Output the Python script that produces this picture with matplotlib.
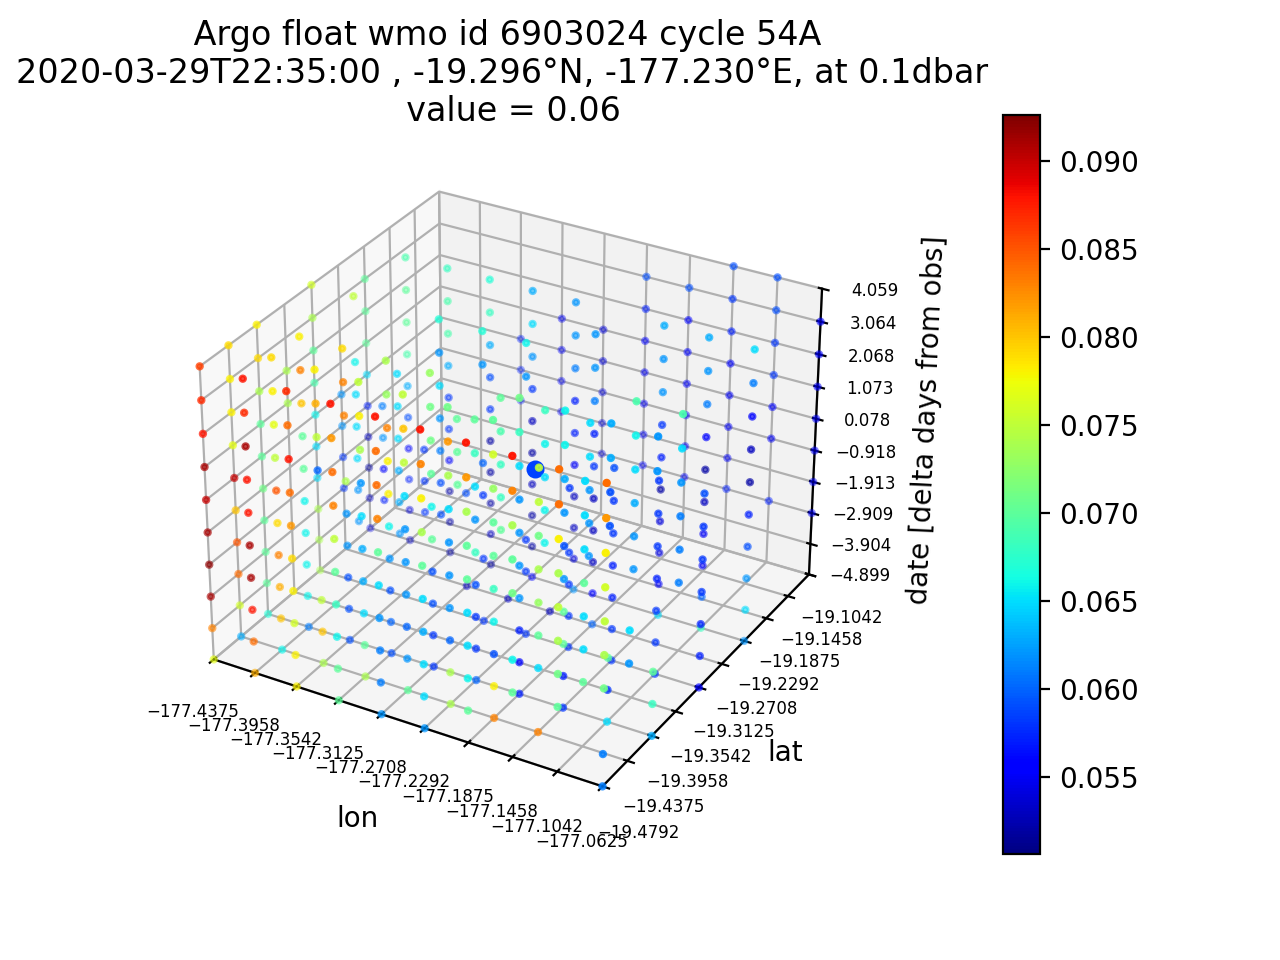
import numpy as np
import matplotlib
matplotlib.use('Agg')
import matplotlib.pyplot as plt

# Grid ticks of the float's neighbourhood
lon_ticks = [-177.4375, -177.3958, -177.3542, -177.3125, -177.2708,
             -177.2292, -177.1875, -177.1458, -177.1042, -177.0625]
lat_ticks = [-19.4792, -19.4375, -19.3958, -19.3542, -19.3125,
             -19.2708, -19.2292, -19.1875, -19.1458, -19.1042]
date_ticks = [-4.899, -3.904, -2.909, -1.913, -0.918,
              0.078, 1.073, 2.068, 3.064, 4.059]

# Observation
obs_lon = -177.230
obs_lat = -19.296
obs_date = 0.0
obs_value = 0.0585
vmin = 0.0506
vmax = 0.0926

N = None
# Columns of the grid: lon index, lat index
stack_i = [0, 1, 2, 3, 4, 5, 6, 7, 8, 9,
           0, 1, 2, 3, 4, 5, 6, 7, 8, 9,
           0, 1, 2, 3, 4, 5, 6, 7, 8, 9,
           0, 4, 5, 6, 7, 8, 9,
           0, 1, 2, 3, 4, 5, 6, 7, 8, 9,
           0, 1, 2, 3, 4, 5, 6,
           0, 1, 2, 3, 4, 5, 7, 8, 9,
           2, 3, 4, 5, 6, 7, 8, 9]
stack_j = [0] * 10 + [1] * 10 + [2] * 10 + [3] * 7 + [4] * 10 + [5] * 7 + [6] * 9 + [9] * 8
# Values (thousandths) for each column from the lowest date level up
stack_values = [
    [77, 83, 91, 92, 91, 90, 91, 88, 87, 86],
    [81, 84, 88, 91, 91, 88, 88, 91, 87, 88],
    [78, 78, 76, 78, 79, 82, 84, 88, 84, 87],
    [70, 70, 66, 68, 70, 75, 83, 84, 82, 88],
    [62, 61, 61, 62, 65, 70, 83, 84, 84, 88],
    [62, 65, 65, 63, 65, 70, 74, 78, 83, 88],
    [N, 70, 66, 65, 65, 70, 70, 74, 82, 88],
    [N, N, 70, 66, N, 71, 70, 74, 83, 88],
    [N, N, 70, 71, 74, 75, 74, 78, 84, 84],
    [61, 61, N, 71, 74, 75, 76, 78, 82, 84],
    [63, 76, 84, 85, 80, 90, 77, 78, 78, 79],
    [66, 80, 81, 83, 79, 85, 75, 77, 78, 79],
    [74, 80, 75, N, N, N, 60, 75, 81, 78],
    [74, 70, 65, 63, 63, 65, 62, 74, 78, 75],
    [70, 62, 60, 62, 62, 62, 65, 75, 80, 75],
    [74, 74, 60, 62, 62, 62, 65, 74, 82, 71],
    [83, 78, 59, 66, 68, 70, 70, 73, 76, 70],
    [83, N, 65, 70, 73, 74, 71, 75, 75, N],
    [N, N, 70, 65, 65, 70, 65, 65, 65, N],
    [N, N, N, 62, 65, N, N, N, N, N],
    [67, 70, 70, 70, 71, 70, 70, 74, 79, 78],
    [61, 66, 66, 66, 66, 70, 70, 80, 83, 78],
    [59, 59, 59, 62, 62, 74, N, 83, 83, 79],
    [59, 60, 59, 62, 66, 78, 78, 83, 73, 74],
    [58, 58, 59, 59, 70, 66, 70, 71, 71, 73],
    [60, 58, 58, 59, 68, 62, 65, 68, 70, N],
    [57, 56, 57, 62, 62, 62, 62, 65, 68, 71],
    [58, 57, 70, 70, 62, 59, 62, 63, 66, 66],
    [65, 58, 70, N, N, N, 59, 59, 63, 63],
    [63, 68, 70, N, N, N, N, N, 62, 62],
    [N, N, N, N, N, N, 74, 74, N, N],
    [N, N, N, N, N, 70, 70, 70, N, N],
    [N, N, N, N, 70, 68, 68, 69, 70, N],
    [N, N, N, N, 66, 66, 65, 66, 68, N],
    [N, N, N, N, 62, 62, 62, 65, 65, N],
    [N, N, N, N, 62, 62, 63, 65, 66, 69],
    [N, N, N, N, 61, 61, 61, 62, 65, 69],
    [74, 74, 74, 65, 65, 66, 69, 70, 74, 76],
    [N, N, 62, 62, 65, 65, 65, 66, N, 75],
    [N, N, 62, 63, 63, 65, 65, 65, N, N],
    [N, N, N, 59, 59, 61, 62, 65, 62, 67],
    [58, N, 58, N, 58, 60, N, N, 62, 67],
    [58, N, 58, 58, N, N, N, N, 62, 66],
    [58, 58, 58, 58, N, 58, N, N, N, N],
    [58, 58, 57, 57, 58, 58, 59, N, N, N],
    [58, 58, 58, 57, 58, 58, 58, N, N, N],
    [56, 57, 57, 58, 58, 58, 59, N, N, N],
    [N, N, 58, 58, 62, 62, N, N, N, N],
    [N, N, 57, 56, 62, 61, N, N, N, N],
    [N, N, 58, 58, 58, N, N, N, N, N],
    [53, N, N, 59, N, N, N, N, N, N],
    [53, N, N, N, N, N, N, N, N, N],
    [53, N, N, N, N, N, N, N, N, N],
    [60, 56, 53, 53, 53, 58, 57, 61, 62, 62],
    [54, 53, 52, 53, 57, 65, 70, 70, 70, N],
    [53, 54, 57, 56, 59, 63, 69, 70, 70, 69],
    [52, 52, 52, 56, 58, 58, 63, 69, 69, 68],
    [52, 53, 52, 52, 52, 58, 59, 63, 68, 67],
    [56, 52, 52, 53, 52, 53, 58, 62, 65, 63],
    [62, 54, 53, 53, 55, 57, 57, 61, 62, 62],
    [65, 55, 54, 54, 52, 57, 58, 62, 62, 63],
    [68, 60, 55, 55, 53, 52, 56, 61, 62, 63],
    [62, 65, 62, 59, 57, 52, 53, 56, 61, 65],
    [N, N, N, 57, 57, 57, N, N, N, N],
    [N, N, N, 55, 55, 55, 55, N, N, N],
    [N, N, 54, 54, 54, 54, 54, N, N, N],
    [N, N, 56, 55, 55, 55, 56, 57, 59, N],
    [N, N, 55, 55, 56, 56, 56, 56, 59, N],
    [N, N, 57, 55, 55, 55, 56, 57, 58, 59],
    [N, N, 57, N, 55, 56, 58, 58, 59, 59],
    [N, N, 55, 55, 55, 55, 55, 55, 55, N],
]

lons, lats, dates, values = [], [], [], []
for i, j, column in zip(stack_i, stack_j, stack_values):
    for k, v in enumerate(column):
        if v is None:
            continue
        lons.append(lon_ticks[i])
        lats.append(lat_ticks[j])
        dates.append(date_ticks[k])
        values.append(v / 1000)

fig = plt.figure(figsize=(6.4, 4.8), dpi=200)
ax = fig.add_subplot(projection='3d')

sc = ax.scatter(lons, lats, dates, c=values, s=4, cmap='jet', vmin=vmin, vmax=vmax)
ax.scatter([obs_lon], [obs_lat], [obs_date], c=[obs_value], s=30, cmap='jet',
           vmin=vmin, vmax=vmax, depthshade=False)

ax.set_xlim(lon_ticks[0], lon_ticks[-1], view_margin=0)
ax.set_ylim(lat_ticks[0], lat_ticks[-1], view_margin=0)
ax.set_zlim(date_ticks[0], date_ticks[-1], view_margin=0)
ax.set_xticks(lon_ticks)
ax.set_yticks(lat_ticks)
ax.set_zticks(date_ticks)
ax.xaxis.set_major_formatter(plt.FuncFormatter(lambda v, p: ('%.4f' % v).replace('-', '\u2212')))
ax.yaxis.set_major_formatter(plt.FuncFormatter(lambda v, p: ('%.4f' % v).replace('-', '\u2212')))
ax.zaxis.set_major_formatter(plt.FuncFormatter(lambda v, p: ('%.3f' % v).replace('-', '\u2212')))
ax.tick_params(labelsize=6)
ax.set_xlabel('lon')
ax.set_ylabel('lat')
ax.set_zlabel('date [delta days from obs]')
# Leading spaces: the lines of the title are not centred on one another
ax.set_title(' Argo float wmo id 6903024 cycle 54A\n'
             '2020-03-29T22:35:00 , -19.296°N, -177.230°E, at 0.1dbar\n'
             '  value = 0.06', x=0.4928)
fig.colorbar(sc)
# The 3D box sits left of the colorbar, a bit smaller than the default
ax.set_position([0.1262, 0.1354, 0.5406, 0.7208])

fig.savefig('out.png', dpi=200)
